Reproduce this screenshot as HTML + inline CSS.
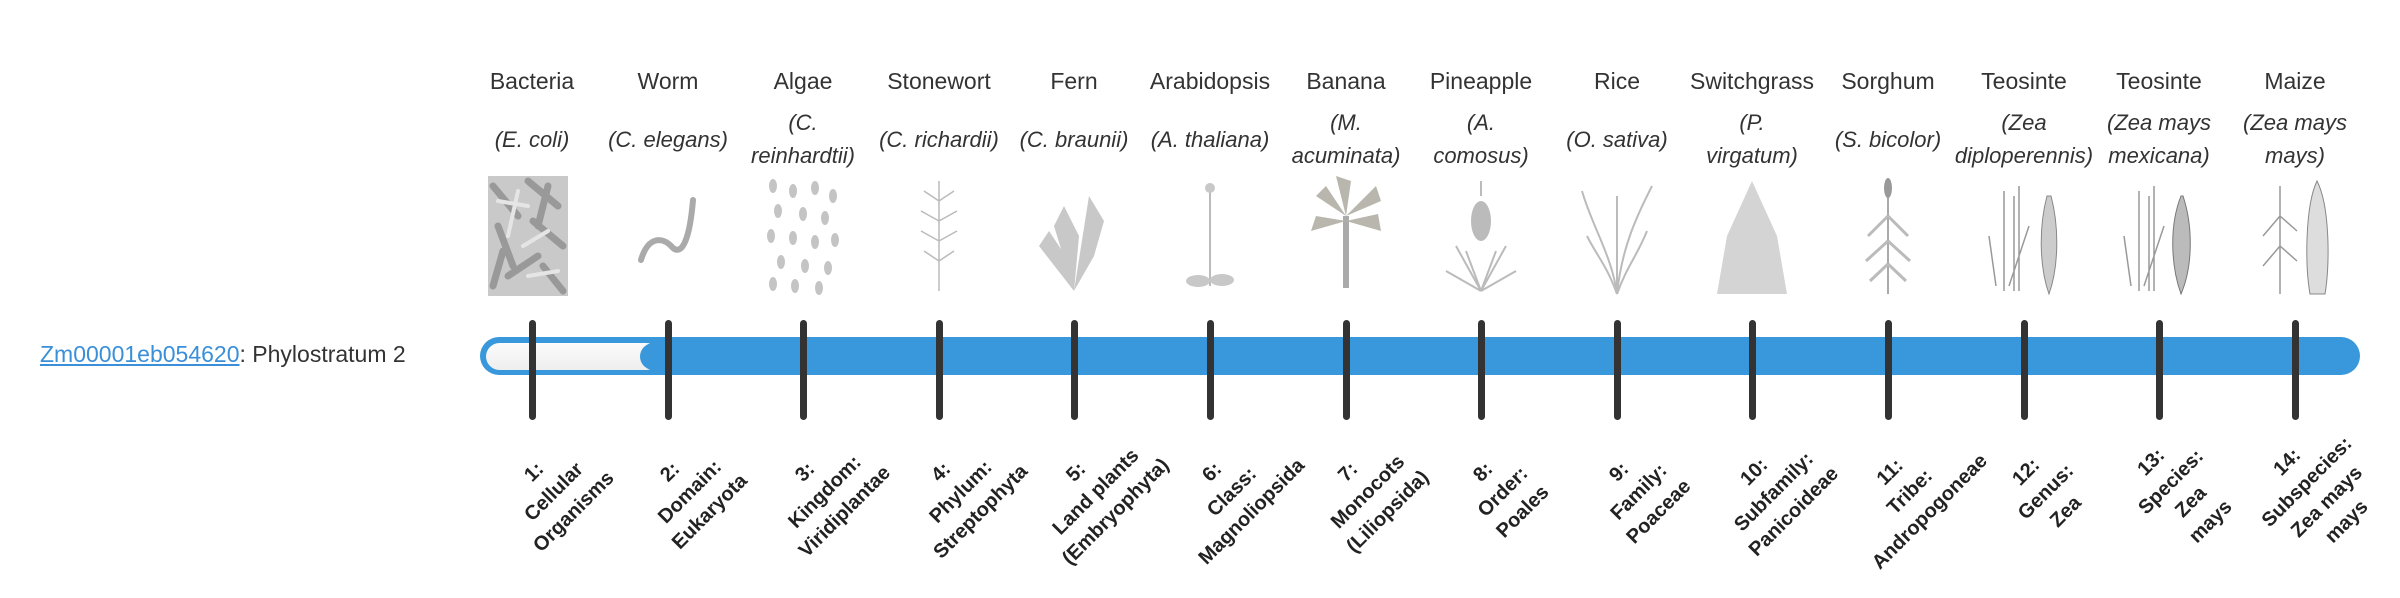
<!DOCTYPE html>
<html><head><meta charset="utf-8"><style>
html,body{margin:0;padding:0;background:#fff;width:2400px;height:580px;overflow:hidden;font-family:"Liberation Sans",sans-serif;color:#333}
.abs{position:absolute}
.name{position:absolute;top:66px;width:150px;text-align:center;font-size:23px;line-height:30px;white-space:nowrap}
.sci{position:absolute;top:106px;width:150px;height:66px;display:flex;align-items:center;justify-content:center;text-align:center;font-size:22px;line-height:33px;font-style:italic;white-space:nowrap}
.img{position:absolute;top:176px;width:80px;height:120px}
.tick{position:absolute;top:320px;width:7px;height:100px;background:#333;border-radius:4px}
.lab{position:absolute;top:432px;width:180px;height:120px;display:flex;align-items:center;justify-content:center;text-align:center;font-weight:bold;font-size:20px;line-height:28px;transform:rotate(-45deg);color:#222;white-space:nowrap}
</style></head><body>
<div class="abs" style="left:40px;top:339px;font-size:23px;line-height:30px"><span style="color:#3a8fd8;text-decoration:underline">Zm00001eb054620</span>: Phylostratum 2</div>

<div class="abs" style="left:480px;top:337px;width:1880px;height:38px;background:#3898db;border-radius:19px"></div>
<div class="abs" style="left:486px;top:343px;width:174px;height:27px;background:linear-gradient(#fbfbfb,#eee);border-radius:14px"></div>
<div class="abs" style="left:640px;top:343px;width:30px;height:27px;background:#3898db;border-radius:14px 0 0 14px"></div>

<div class="name" style="left:457px">Bacteria</div><div class="sci" style="left:457px">(E. coli)</div>
<div class="name" style="left:593px">Worm</div><div class="sci" style="left:593px">(C. elegans)</div>
<div class="name" style="left:728px">Algae</div><div class="sci" style="left:728px">(C.<br>reinhardtii)</div>
<div class="name" style="left:864px">Stonewort</div><div class="sci" style="left:864px">(C. richardii)</div>
<div class="name" style="left:999px">Fern</div><div class="sci" style="left:999px">(C. braunii)</div>
<div class="name" style="left:1135px">Arabidopsis</div><div class="sci" style="left:1135px">(A. thaliana)</div>
<div class="name" style="left:1271px">Banana</div><div class="sci" style="left:1271px">(M.<br>acuminata)</div>
<div class="name" style="left:1406px">Pineapple</div><div class="sci" style="left:1406px">(A.<br>comosus)</div>
<div class="name" style="left:1542px">Rice</div><div class="sci" style="left:1542px">(O. sativa)</div>
<div class="name" style="left:1677px">Switchgrass</div><div class="sci" style="left:1677px">(P.<br>virgatum)</div>
<div class="name" style="left:1813px">Sorghum</div><div class="sci" style="left:1813px">(S. bicolor)</div>
<div class="name" style="left:1949px">Teosinte</div><div class="sci" style="left:1949px">(Zea<br>diploperennis)</div>
<div class="name" style="left:2084px">Teosinte</div><div class="sci" style="left:2084px">(Zea mays<br>mexicana)</div>
<div class="name" style="left:2220px">Maize</div><div class="sci" style="left:2220px">(Zea mays<br>mays)</div>

<svg class="img" style="left:488px" viewBox="0 0 80 120"><rect width="80" height="120" fill="#c9c9c9"/><g stroke="#999" stroke-width="7" stroke-linecap="round" fill="none"><path d="M5 10 L30 40M40 5 L70 30M10 50 L25 90M45 45 L75 70M20 100 L50 80M55 90 L75 115M5 110 L15 75M60 10 L50 50"/></g><g stroke="#e5e5e5" stroke-width="4" stroke-linecap="round"><path d="M30 15 L20 60M60 55 L35 70M40 100 L70 95M10 25 L40 30"/></g></svg>
<svg class="img" style="left:628px" viewBox="0 0 80 120"><path d="M13 84 C20 60,35 60,45 72 C55 80,62 60,65 24" stroke="#aaa" stroke-width="6" fill="none" stroke-linecap="round"/></svg>
<svg class="img" style="left:763px" viewBox="0 0 80 120"><g fill="#c4c4c4"><ellipse cx="10" cy="10" rx="4" ry="7"/><ellipse cx="30" cy="15" rx="4" ry="7"/><ellipse cx="52" cy="12" rx="4" ry="7"/><ellipse cx="70" cy="20" rx="4" ry="7"/><ellipse cx="15" cy="35" rx="4" ry="7"/><ellipse cx="40" cy="38" rx="4" ry="7"/><ellipse cx="62" cy="42" rx="4" ry="7"/><ellipse cx="8" cy="60" rx="4" ry="7"/><ellipse cx="30" cy="62" rx="4" ry="7"/><ellipse cx="52" cy="66" rx="4" ry="7"/><ellipse cx="72" cy="64" rx="4" ry="7"/><ellipse cx="18" cy="86" rx="4" ry="7"/><ellipse cx="42" cy="90" rx="4" ry="7"/><ellipse cx="65" cy="92" rx="4" ry="7"/><ellipse cx="10" cy="108" rx="4" ry="7"/><ellipse cx="32" cy="110" rx="4" ry="7"/><ellipse cx="56" cy="112" rx="4" ry="7"/></g></svg>
<svg class="img" style="left:899px" viewBox="0 0 80 120"><g stroke="#bbb" stroke-width="1.5" fill="none"><path d="M40 5 V115M40 25 L25 15M40 25 L55 15M40 45 L22 35M40 45 L58 35M40 65 L22 55M40 65 L58 55M40 85 L25 75M40 85 L55 75"/></g></svg>
<svg class="img" style="left:1034px" viewBox="0 0 80 120"><g fill="#c8c8c8"><path d="M40 115 L20 50 L30 30 L45 60Z"/><path d="M40 115 L55 20 L70 45 L60 80Z"/><path d="M40 115 L5 70 L15 55 L35 85Z"/></g></svg>
<svg class="img" style="left:1170px" viewBox="0 0 80 120"><path d="M40 10 V110" stroke="#bbb" stroke-width="2"/><g fill="#c8c8c8"><ellipse cx="28" cy="105" rx="12" ry="6"/><ellipse cx="52" cy="104" rx="12" ry="6"/><circle cx="40" cy="12" r="5"/></g></svg>
<svg class="img" style="left:1306px" viewBox="0 0 80 120"><path d="M40 40 V112" stroke="#aaa" stroke-width="6"/><g fill="#b8b6ad"><path d="M40 40 L10 20 L20 10Z"/><path d="M40 40 L30 0 L45 5Z"/><path d="M40 40 L70 10 L75 25Z"/><path d="M40 45 L5 55 L10 40Z"/><path d="M40 45 L75 55 L72 38Z"/></g></svg>
<svg class="img" style="left:1441px" viewBox="0 0 80 120"><ellipse cx="40" cy="45" rx="10" ry="20" fill="#bbb"/><g stroke="#bbb" stroke-width="2" fill="none"><path d="M40 20 V5M40 115 L15 70M40 115 L65 70M40 115 L25 75M40 115 L55 75M40 115 L5 95M40 115 L75 95"/></g></svg>
<svg class="img" style="left:1577px" viewBox="0 0 80 120"><g stroke="#bbb" stroke-width="2" fill="none"><path d="M40 118 C35 80,15 50,5 15M40 118 C45 70,60 40,75 10M40 118 V20M40 118 C30 90,20 80,10 60M40 118 C50 90,60 80,70 55"/></g></svg>
<svg class="img" style="left:1712px" viewBox="0 0 80 120"><path d="M40 5 L15 60 L5 118 H75 L65 60Z" fill="#d4d4d4"/></svg>
<svg class="img" style="left:1848px" viewBox="0 0 80 120"><path d="M40 20 V118" stroke="#aaa" stroke-width="2"/><ellipse cx="40" cy="12" rx="4" ry="10" fill="#999"/><g stroke="#bbb" stroke-width="3" fill="none"><path d="M40 40 L20 60M40 40 L60 60M40 65 L18 85M40 65 L62 85M40 88 L22 105M40 88 L58 105"/></g></svg>
<svg class="img" style="left:1984px" viewBox="0 0 80 120"><g stroke="#999" stroke-width="1.5" fill="none"><path d="M20 115 V15M30 115 V20M35 115 V10M12 110 L5 60M25 110 L45 50"/></g><path d="M63 20 C55 50,55 90,65 118 C75 90,75 50,67 20Z" fill="#ccc" stroke="#888"/></svg>
<svg class="img" style="left:2119px" viewBox="0 0 80 120"><g stroke="#999" stroke-width="1.5" fill="none"><path d="M20 115 V15M30 115 V20M35 115 V10M12 110 L5 60M25 110 L45 50"/></g><path d="M62 20 C50 50,52 90,62 118 C74 90,74 50,64 20Z" fill="#bbb" stroke="#777"/></svg>
<svg class="img" style="left:2255px" viewBox="0 0 80 120"><g stroke="#999" stroke-width="1.5" fill="none"><path d="M25 118 V10M25 40 L8 60M25 40 L42 55M25 70 L8 90M25 70 L42 85"/></g><path d="M62 5 C50 30,50 90,55 118 H70 C75 90,75 30,62 5Z" fill="#ddd" stroke="#888"/></svg>

<div class="tick" style="left:529px"></div><div class="tick" style="left:665px"></div><div class="tick" style="left:800px"></div><div class="tick" style="left:936px"></div><div class="tick" style="left:1071px"></div><div class="tick" style="left:1207px"></div><div class="tick" style="left:1343px"></div><div class="tick" style="left:1478px"></div><div class="tick" style="left:1614px"></div><div class="tick" style="left:1749px"></div><div class="tick" style="left:1885px"></div><div class="tick" style="left:2021px"></div><div class="tick" style="left:2156px"></div><div class="tick" style="left:2292px"></div>

<div class="lab" style="left:464px"><div>1:<br>Cellular<br>Organisms</div></div>
<div class="lab" style="left:600px"><div>2:<br>Domain:<br>Eukaryota</div></div>
<div class="lab" style="left:735px"><div>3:<br>Kingdom:<br>Viridiplantae</div></div>
<div class="lab" style="left:871px"><div>4:<br>Phylum:<br>Streptophyta</div></div>
<div class="lab" style="left:1006px"><div>5:<br>Land plants<br>(Embryophyta)</div></div>
<div class="lab" style="left:1142px"><div>6:<br>Class:<br>Magnoliopsida</div></div>
<div class="lab" style="left:1278px"><div>7:<br>Monocots<br>(Liliopsida)</div></div>
<div class="lab" style="left:1413px"><div>8:<br>Order:<br>Poales</div></div>
<div class="lab" style="left:1549px"><div>9:<br>Family:<br>Poaceae</div></div>
<div class="lab" style="left:1684px"><div>10:<br>Subfamily:<br>Panicoideae</div></div>
<div class="lab" style="left:1820px"><div>11:<br>Tribe:<br>Andropogoneae</div></div>
<div class="lab" style="left:1956px"><div>12:<br>Genus:<br>Zea</div></div>
<div class="lab" style="left:2091px"><div>13:<br>Species:<br>Zea<br>mays</div></div>
<div class="lab" style="left:2227px"><div>14:<br>Subspecies:<br>Zea mays<br>mays</div></div>
</body></html>
